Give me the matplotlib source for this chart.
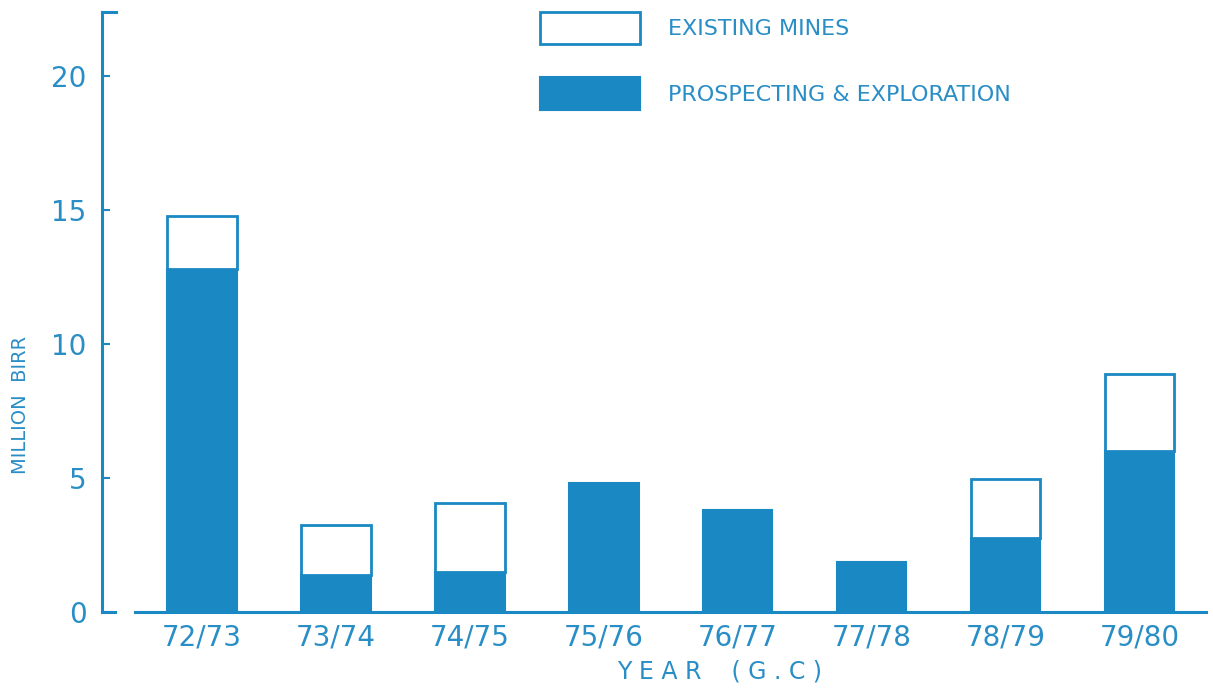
import matplotlib
matplotlib.use("Agg")
import matplotlib.pyplot as plt
import numpy as np

# Data
years = ["72/73", "73/74", "74/75", "75/76", "76/77", "77/78", "78/79", "79/80"]
prospecting = [12.8, 1.4, 1.5, 4.8, 3.8, 1.85, 2.75, 6.0]
existing = [2.0, 1.85, 2.57, 0, 0, 0, 2.2, 2.9]
yticks = [0, 5, 10, 15, 20]

BLUE = "#1a88c2"
TXT = "#2a8ec6"

fig = plt.figure(figsize=(12.13, 6.9), dpi=100)
ax = fig.add_axes([102 / 1213, 78 / 690, 1 - 102 / 1213, 600 / 690])

x = np.arange(len(years))
W = 0.52
ax.bar(x, prospecting, width=W, color=BLUE, edgecolor=BLUE, linewidth=1.5,
       label="PROSPECTING & EXPLORATION", zorder=2)
ax.bar(x, existing, width=W, bottom=prospecting, color="white", edgecolor=BLUE,
       linewidth=2, label="EXISTING MINES", zorder=2)

ax.set_xlim(-0.747, 7.55)
ax.set_ylim(0, 22.4)

for s in ["top", "right"]:
    ax.spines[s].set_visible(False)
ax.spines["left"].set_color(BLUE)
ax.spines["left"].set_linewidth(2.2)
ax.spines["bottom"].set_color(BLUE)
ax.spines["bottom"].set_linewidth(2.2)
ax.spines["bottom"].set_bounds(-0.5, 7.5)

# small caps at ends of the y axis
ax.plot([-0.747, -0.64], [22.4, 22.4], color=BLUE, lw=2.2, clip_on=False)
ax.plot([-0.747, -0.65], [0, 0], color=BLUE, lw=2.2, clip_on=False)

ax.set_yticks(yticks)
ax.set_yticklabels([str(v) for v in yticks])
ax.tick_params(axis="y", direction="in", length=6, width=1.5, color=BLUE,
               labelsize=20, labelcolor=TXT, pad=11)
ax.set_xticks(x)
ax.set_xticklabels(years)
ax.tick_params(axis="x", length=0, labelsize=20, labelcolor=TXT, pad=8)

ax.set_ylabel("MILLION  BIRR", color=TXT, fontsize=14)
ax.yaxis.set_label_coords(-0.065, 0.345)
ax.set_xlabel("Y E A R    ( G . C )", color=TXT, fontsize=17)
ax.xaxis.set_label_coords(0.556, -0.08)

handles, labels = ax.get_legend_handles_labels()
leg = ax.legend(handles[::-1], labels[::-1], loc="upper left",
                bbox_to_anchor=(540 / 1213, 1 - 12 / 690),
                bbox_transform=fig.transFigure, frameon=False, fontsize=16,
                handlelength=4.5, handleheight=1.85, labelspacing=1.5,
                handletextpad=1.26, borderpad=0, borderaxespad=0)
for t in leg.get_texts():
    t.set_color(TXT)

fig.savefig("out.png", dpi=100)
